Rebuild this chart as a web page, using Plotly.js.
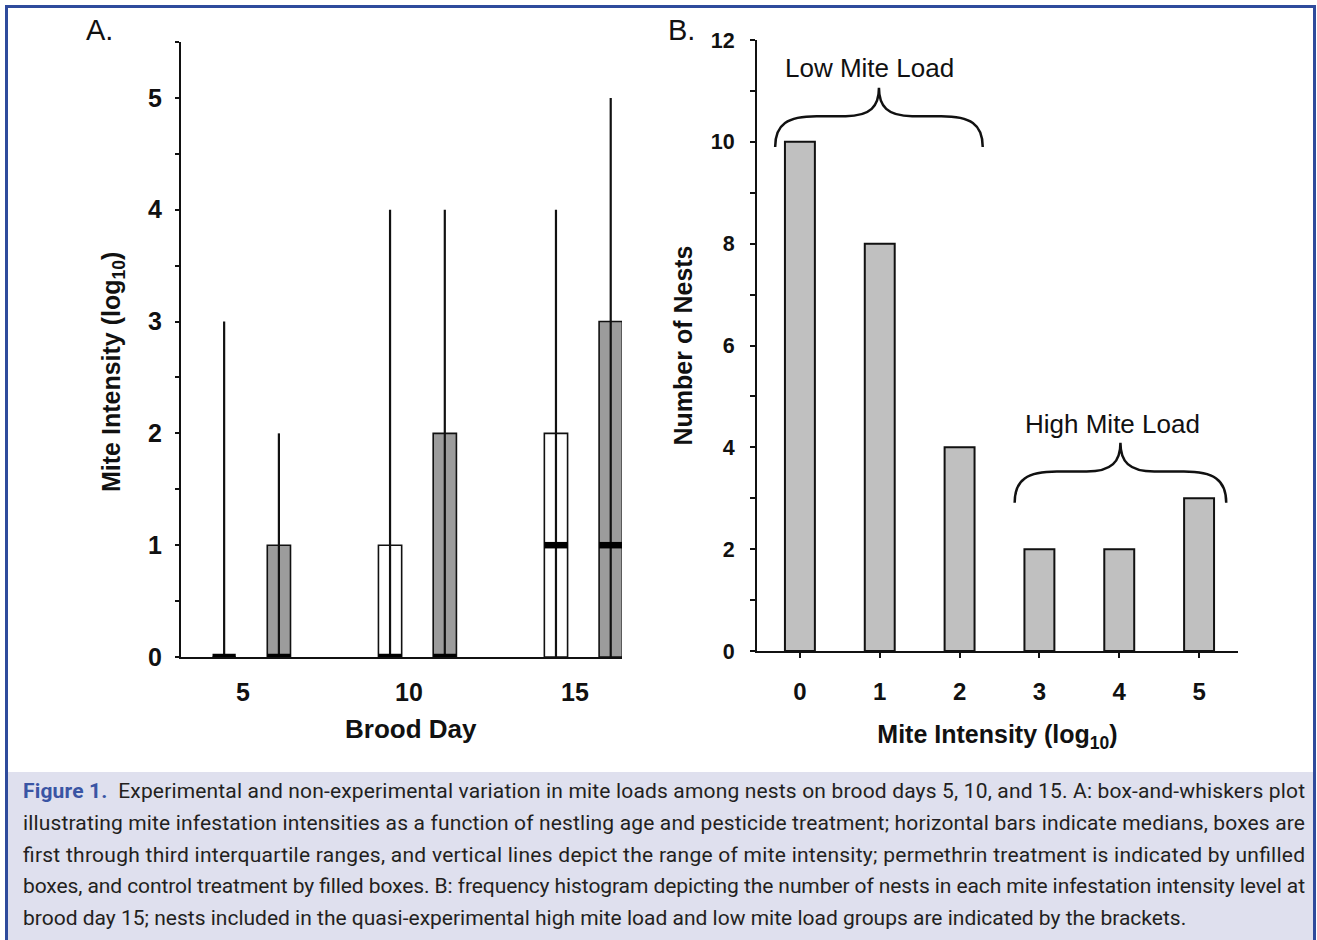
<!DOCTYPE html>
<html>
<head>
<meta charset="utf-8">
<script src="https://cdn.plot.ly/plotly-3.0.1.min.js"></script>
<style>
html,body{margin:0;padding:0;background:#fff;}
#chart{width:1317px;height:940px;}
</style>
</head>
<body>
<div id="chart"></div>
<script>
// ---------- Data: Panel A (box-and-whiskers) ----------
const broodDays = [5, 10, 15];
const permMin = [0, 0, 0];
const permQ1  = [0, 0, 0];
const permMed = [0, 0, 1];
const permQ3  = [0, 1, 2];
const permMax = [3, 4, 4];
const ctrlMin = [0, 0, 0];
const ctrlQ1  = [0, 0, 0];
const ctrlMed = [0, 0, 1];
const ctrlQ3  = [1, 2, 3];
const ctrlMax = [2, 4, 5];
const yTicksA = [0, 1, 2, 3, 4, 5];
const yTickLabelsA = ['0', '1', '2', '3', '4', '5'];

// ---------- Data: Panel B (histogram) ----------
const miteLevels = [0, 1, 2, 3, 4, 5];
const nestCounts = [10, 8, 4, 2, 2, 3];
const yTicksB = [0, 2, 4, 6, 8, 10, 12];
const yTickLabelsB = ['0', '2', '4', '6', '8', '10', '12'];

// ---------- Caption ----------
const captionLines = [
  'Experimental and non-experimental variation in mite loads among nests on brood days 5, 10, and 15. A: box-and-whiskers plot',
  'illustrating mite infestation intensities as a function of nestling age and pesticide treatment; horizontal bars indicate medians, boxes are',
  'first through third interquartile ranges, and vertical lines depict the range of mite intensity; permethrin treatment is indicated by unfilled',
  'boxes, and control treatment by filled boxes. B: frequency histogram depicting the number of nests in each mite infestation intensity level at',
  'brood day 15; nests included in the quasi-experimental high mite load and low mite load groups are indicated by the brackets.'
];

// ---------- Layout helpers ----------
const W = 1317, H = 940;
const px = v => v / W;
const py = v => 1 - v / H;
const FONT = 'Liberation Sans, Arial, Helvetica, sans-serif';
const permOffset = -0.57, ctrlOffset = 1.08, boxW = 0.7;

function boxTraces(offset, q1, q3, med, mn, mx, fill, name) {
  const xs = broodDays.map(d => d + offset);
  const wx = [], wy = [], mxs = [], mys = [];
  xs.forEach((x, i) => {
    wx.push(x, x, null); wy.push(mn[i], mx[i], null);
    mxs.push(x - boxW / 2, x + boxW / 2, null); mys.push(med[i], med[i], null);
  });
  return [
    {type: 'bar', x: xs, base: q1, y: q3.map((v, i) => v - q1[i]), width: boxW,
     marker: {color: fill, line: {color: '#111', width: 1.6}}, xaxis: 'x', yaxis: 'y',
     name: name + ' IQR', showlegend: false, hoverinfo: 'skip'},
    {type: 'scatter', mode: 'lines', x: wx, y: wy, line: {color: '#111', width: 2.2},
     xaxis: 'x', yaxis: 'y', name: name + ' range', showlegend: false, hoverinfo: 'skip'},
    {type: 'scatter', mode: 'lines', x: mxs, y: mys, line: {color: '#000', width: 6.5},
     xaxis: 'x', yaxis: 'y', name: name + ' median', showlegend: false, hoverinfo: 'skip'}
  ];
}

const traces = [
  ...boxTraces(permOffset, permQ1, permQ3, permMed, permMin, permMax, '#ffffff', 'Permethrin'),
  ...boxTraces(ctrlOffset, ctrlQ1, ctrlQ3, ctrlMed, ctrlMin, ctrlMax, '#9c9c9c', 'Control'),
  {type: 'bar', x: miteLevels, y: nestCounts, width: 0.375,
   marker: {color: '#c0c0c0', line: {color: '#111', width: 2}},
   xaxis: 'x2', yaxis: 'y2', name: 'Nests', showlegend: false}
];

function brace(x0, x1, yb, yt) {
  const w = x1 - x0, xm = (x0 + x1) / 2;
  const ys = yb + 0.52 * (yt - yb);
  return `M ${x0},${yb} C ${x0},${yb + 0.75 * (ys - yb)} ${x0 + 0.06 * w},${ys} ${x0 + 0.2 * w},${ys}` +
         ` L ${xm - 0.16 * w},${ys} C ${xm - 0.04 * w},${ys} ${xm},${ys + 0.35 * (yt - ys)} ${xm},${yt}` +
         ` C ${xm},${ys + 0.35 * (yt - ys)} ${xm + 0.04 * w},${ys} ${xm + 0.16 * w},${ys}` +
         ` L ${x1 - 0.2 * w},${ys} C ${x1 - 0.06 * w},${ys} ${x1},${yb + 0.75 * (ys - yb)} ${x1},${yb}`;
}

const axisCommon = {
  showgrid: false, zeroline: false, showline: true, linecolor: '#111', linewidth: 2,
  tickcolor: '#111', fixedrange: true
};

const headAnnotations = [
  {xref: 'paper', yref: 'paper', x: px(84), y: py(30), xanchor: 'left', yanchor: 'middle',
   text: 'A.', showarrow: false, font: {size: 29, family: FONT, color: '#111'}},
  {xref: 'paper', yref: 'paper', x: px(666), y: py(30), xanchor: 'left', yanchor: 'middle',
   text: 'B.', showarrow: false, font: {size: 29, family: FONT, color: '#111'}},
  {xref: 'x2', yref: 'y2', x: 0.875, y: 11.45, xanchor: 'center', yanchor: 'middle',
   text: 'Low Mite Load', showarrow: false, font: {size: 26, family: FONT, color: '#111'}},
  {xref: 'x2', yref: 'y2', x: 3.91, y: 4.46, xanchor: 'center', yanchor: 'middle',
   text: 'High Mite Load', showarrow: false, font: {size: 26, family: FONT, color: '#111'}},
  // Panel A axis titles (placed off-centre as in the original figure)
  {xref: 'paper', yref: 'paper', x: px(113), y: py(372), xanchor: 'center', yanchor: 'middle',
   textangle: -90, text: 'Mite Intensity (log<sub>10</sub>)', showarrow: false,
   font: {size: 25, weight: 'bold', family: FONT, color: '#111'}},
  {xref: 'paper', yref: 'paper', x: px(411), y: py(729), xanchor: 'center', yanchor: 'middle',
   text: 'Brood Day', showarrow: false,
   font: {size: 26, weight: 'bold', family: FONT, color: '#111'}}
];

const CAPTION_FIRST = headAnnotations.length;
const captionAnnotations = captionLines.map((t, i) => ({
  xref: 'paper', yref: 'paper', x: px(21), y: py(791 + i * 31.8),
  xanchor: 'left', yanchor: 'middle', showarrow: false, align: 'left',
  text: (i === 0 ? '<span style="color:#3a55a4;font-weight:bold">Figure 1.</span>\u00a0 ' : '') + t,
  font: {family: 'Roboto, Noto Sans, sans-serif', size: 21, color: '#231f20'}
}));

const layout = {
  width: W, height: H,
  margin: {l: 0, r: 0, t: 0, b: 0},
  paper_bgcolor: '#ffffff', plot_bgcolor: 'rgba(0,0,0,0)',
  barmode: 'overlay', showlegend: false,
  font: {family: FONT, color: '#111'},
  xaxis: Object.assign({}, axisCommon, {
    domain: [px(181), px(622)], range: [3.13, 16.42],
    tickvals: broodDays, ticktext: broodDays.map(String), ticks: '',
    tickfont: {size: 25, weight: 'bold', family: FONT}, ticklabelstandoff: 12,
    anchor: 'y'
  }),
  yaxis: Object.assign({}, axisCommon, {
    domain: [py(657), py(42)], range: [0, 5.5],
    tickvals: yTicksA, ticktext: yTickLabelsA, ticks: 'outside', ticklen: 4, tickwidth: 2,
    minor: {dtick: 0.5, tick0: 0, ticks: 'outside', ticklen: 4, tickwidth: 2, tickcolor: '#111', showgrid: false},
    tickfont: {size: 25, weight: 'bold', family: FONT}, ticklabelstandoff: 8,
    anchor: 'x'
  }),
  xaxis2: Object.assign({}, axisCommon, {
    domain: [px(757), px(1238)], range: [-0.5375, 5.4875],
    tickvals: miteLevels, ticktext: miteLevels.map(String), ticks: 'outside', ticklen: 5, tickwidth: 2,
    tickfont: {size: 24, weight: 'bold', family: FONT}, ticklabelstandoff: 13,
    title: {text: 'Mite Intensity (log<sub>10</sub>)', font: {size: 25, weight: 'bold', family: FONT}, standoff: 22},
    anchor: 'y2'
  }),
  yaxis2: Object.assign({}, axisCommon, {
    domain: [py(651), py(40)], range: [0, 12],
    tickvals: yTicksB, ticktext: yTickLabelsB, ticks: 'outside', ticklen: 5, tickwidth: 2,
    minor: {dtick: 1, tick0: 0, ticks: 'outside', ticklen: 5, tickwidth: 2, tickcolor: '#111', showgrid: false},
    tickfont: {size: 21.5, weight: 'bold', family: FONT}, ticklabelstandoff: 11,
    title: {text: 'Number of Nests', font: {size: 25, weight: 'bold', family: FONT}, standoff: 11},
    anchor: 'x2'
  }),
  shapes: [
    {type: 'rect', xref: 'paper', yref: 'paper', x0: px(8), x1: px(1313), y0: py(945), y1: py(772),
     fillcolor: '#dfe0ee', line: {width: 0}, layer: 'below'},
    {type: 'rect', xref: 'paper', yref: 'paper', x0: px(6.5), x1: px(1314.5), y0: py(950), y1: py(6.5),
     fillcolor: 'rgba(0,0,0,0)', line: {color: '#2f4b9c', width: 3}, layer: 'above'},
    {type: 'path', xref: 'x2', yref: 'y2', path: brace(-0.31, 2.29, 9.9, 11.06),
     line: {color: '#111', width: 2.5}},
    {type: 'path', xref: 'x2', yref: 'y2', path: brace(2.69, 5.34, 2.91, 4.09),
     line: {color: '#111', width: 2.5}}
  ],
  annotations: [...headAnnotations, ...captionAnnotations]
};

Plotly.newPlot('chart', traces, layout, {displayModeBar: false, staticPlot: true}).then(gd => {
  // justify the caption lines (all but the last) to the caption's full width
  for (let i = 0; i < captionLines.length - 1; i++) {
    const t = gd.querySelector(`.annotation[data-index="${CAPTION_FIRST + i}"] text.annotation-text`);
    if (t) { t.setAttribute('textLength', 1282); t.setAttribute('lengthAdjust', 'spacing'); }
  }
});
</script>
</body>
</html>
